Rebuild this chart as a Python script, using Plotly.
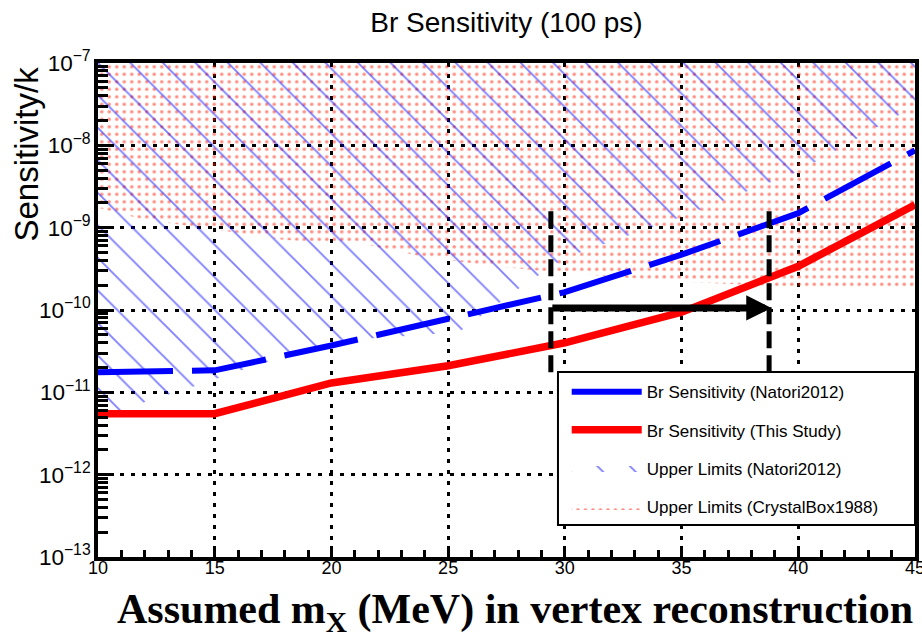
import numpy as np
import plotly.graph_objects as go

# ---- data ----
mass = [10, 15, 20, 25, 30, 35, 40, 45]
br_natori = [1.75e-11, 1.85e-11, 3.7e-11, 7.7e-11, 1.65e-10, 4.7e-10, 1.5e-9, 8.7e-9]
br_this = [5.5e-12, 5.5e-12, 1.3e-11, 2.1e-11, 4.0e-11, 9.4e-11, 3.4e-10, 1.9e-9]

ul_natori_x = [10, 12, 14, 16, 20, 24, 25.5, 26, 28, 30, 35, 40, 45]
ul_natori_y = [5.0e-12, 7.6e-12, 1.15e-11, 1.8e-11, 4.2e-11, 5.0e-11, 5.5e-11, 7.0e-11, 1.8e-10,
               4.3e-10, 1.36e-9, 4.8e-9, 3.0e-8]

ul_cb_x = [10, 12, 14.5, 18, 21.5, 24, 27, 30, 35, 40, 45]
ul_cb_y = [1.75e-9, 1.25e-9, 1.0e-9, 7.1e-10, 6.2e-10, 4.4e-10, 3.4e-10, 2.8e-10, 2.2e-10,
           1.9e-10, 1.9e-10]

y_top = 1e-7
x_range = [10, 45]
y_range_exp = [-13, -7]
y_minor_ticks = [m * 10.0 ** e for e in range(-13, -7) for m in range(2, 10)]
x_minor_ticks = list(range(11, 45))

window_x = [29.4, 38.75]
window_y = [1.75e-11, 1.6e-9]
arrow_y = 1.06e-10

names = ["Br Sensitivity (Natori2012)", "Br Sensitivity (This Study)",
         "Upper Limits (Natori2012)", "Upper Limits (CrystalBox1988)"]

SANS = "Liberation Sans, Arial, Helvetica, sans-serif"
SERIF = "Liberation Serif, Times New Roman, serif"
BLUE = "#0000ff"
RED = "#ff0000"
DOTRED = "#ff1a00"

fig = go.Figure()

# CrystalBox upper-limit region (dotted)
fig.add_trace(go.Scatter(
    x=ul_cb_x + [x_range[1], x_range[0]],
    y=ul_cb_y + [y_top, y_top],
    mode="lines", fill="toself", line=dict(width=0, color="rgba(0,0,0,0)"),
    fillcolor="rgba(0,0,0,0)",
    fillpattern=dict(shape=".", fgcolor=DOTRED, bgcolor="rgba(0,0,0,0)", size=7.5, solidity=0.17),
    name=names[3], legendgroup="d", legendrank=4, hoverinfo="skip"))

# Natori2012 upper-limit region (hatched)
fig.add_trace(go.Scatter(
    x=ul_natori_x + [x_range[1], x_range[0]],
    y=ul_natori_y + [y_top, y_top],
    mode="lines", fill="toself", line=dict(width=0, color="rgba(0,0,0,0)"),
    fillcolor="rgba(0,0,0,0)",
    fillpattern=dict(shape="\\", fgcolor=BLUE, bgcolor="rgba(0,0,0,0)", size=23, solidity=0.08),
    name=names[2], legendgroup="c", legendrank=3, hoverinfo="skip"))

# sensitivity curves
fig.add_trace(go.Scatter(x=mass, y=br_natori, mode="lines",
                         line=dict(color=BLUE, width=6, dash="75px,19px"),
                         showlegend=False))
fig.add_trace(go.Scatter(x=mass, y=br_this, mode="lines",
                         line=dict(color=RED, width=7.5), showlegend=False))

# legend entries for the curves (solid swatches)
fig.add_trace(go.Scatter(x=[None], y=[None], mode="lines", line=dict(color=BLUE, width=6),
                         name=names[0], legendgroup="a", legendrank=1))
fig.add_trace(go.Scatter(x=[None], y=[None], mode="lines", line=dict(color=RED, width=7.5),
                         name=names[1], legendgroup="b", legendrank=2))

# vertical dashed window lines
for wx in window_x:
    fig.add_trace(go.Scatter(x=[wx, wx], y=window_y, mode="lines",
                             line=dict(color="black", width=5, dash="17px,7px"),
                             showlegend=False, hoverinfo="skip"))

# empty trace on the overlay axes that carry the minor ticks
fig.add_trace(go.Scatter(x=[None], y=[None], xaxis="x2", yaxis="y2", showlegend=False,
                         hoverinfo="skip"))

# arrow between the window lines
fig.add_annotation(x=window_x[1] + 0.1, y=np.log10(arrow_y), ax=window_x[0], ay=np.log10(arrow_y),
                   xref="x", yref="y", axref="x", ayref="y", text="",
                   showarrow=True, arrowhead=2, arrowwidth=7, arrowsize=0.72,
                   arrowcolor="black")

# legend box
fig.add_shape(type="rect", xref="paper", yref="paper", x0=0.563, x1=1.0, y0=0.0648, y1=0.3745,
              fillcolor="white", line=dict(color="black", width=2), layer="above")

# axis titles
fig.add_annotation(text="Sensitivity/k", xref="paper", yref="paper", x=-0.088, y=0.996,
                   xanchor="center", yanchor="top", textangle=-90, showarrow=False,
                   font=dict(family=SANS, size=33, color="black"))
fig.add_annotation(text="<b>Assumed m<sub>X</sub> (MeV) in vertex reconstruction</b>",
                   xref="paper", yref="paper", x=1.0, y=-0.112, xanchor="right", yanchor="middle",
                   showarrow=False, font=dict(family=SERIF, size=42, color="black"))

grid_dash = "4px,7px"
fig.update_layout(
    xaxis=dict(range=x_range, dtick=5, tick0=10, showline=True, linewidth=3.5, linecolor="black",
               mirror=True, ticks="inside", ticklen=11, tickwidth=3, tickcolor="black",
               showgrid=True, gridcolor="black", gridwidth=2.5, griddash=grid_dash,
               zeroline=False, automargin=False, ticklabeloverflow="allow",
               ticklabelstandoff=-8,
               tickfont=dict(family=SANS, size=18, color="black")),
    yaxis=dict(type="log", range=y_range_exp, dtick=1, exponentformat="power",
               showline=True, linewidth=3.5, linecolor="black", mirror=True,
               ticks="inside", ticklen=16, tickwidth=3, tickcolor="black",
               showgrid=True, gridcolor="black", gridwidth=2.5, griddash=grid_dash,
               zeroline=False, automargin=False, ticklabeloverflow="allow",
               tickfont=dict(family=SANS, size=18, color="black")),
    xaxis2=dict(overlaying="x", anchor="y2", side="bottom", range=x_range, tickmode="array",
                tickvals=x_minor_ticks, ticks="inside", ticklen=7, tickwidth=2.5,
                tickcolor="black", showticklabels=False, showgrid=False, showline=False,
                zeroline=False, automargin=False),
    yaxis2=dict(overlaying="y", anchor="x2", side="left", type="log", range=y_range_exp,
                tickmode="array", tickvals=y_minor_ticks, ticks="inside", ticklen=10,
                tickwidth=3, tickcolor="black", showticklabels=False, showgrid=False,
                showline=False, zeroline=False, automargin=False),
    width=922, height=633,
    margin=dict(l=98, r=7, t=63, b=76, autoexpand=False),
    paper_bgcolor="white", plot_bgcolor="white",
    title=dict(text="Br Sensitivity (100 ps)", x=0.5, xref="paper", y=0.965, yref="container",
               xanchor="center", yanchor="middle", automargin=False,
               font=dict(family=SANS, size=28, color="black")),
    legend=dict(x=0.5737, y=0.37, xanchor="left", yanchor="top", bgcolor="rgba(0,0,0,0)",
                borderwidth=0, itemwidth=70, tracegroupgap=13,
                font=dict(family=SANS, size=17, color="black")),
    showlegend=True,
)

fig.write_html("out.html", config={"displayModeBar": False},
               post_script="document.body.style.margin='0';")
